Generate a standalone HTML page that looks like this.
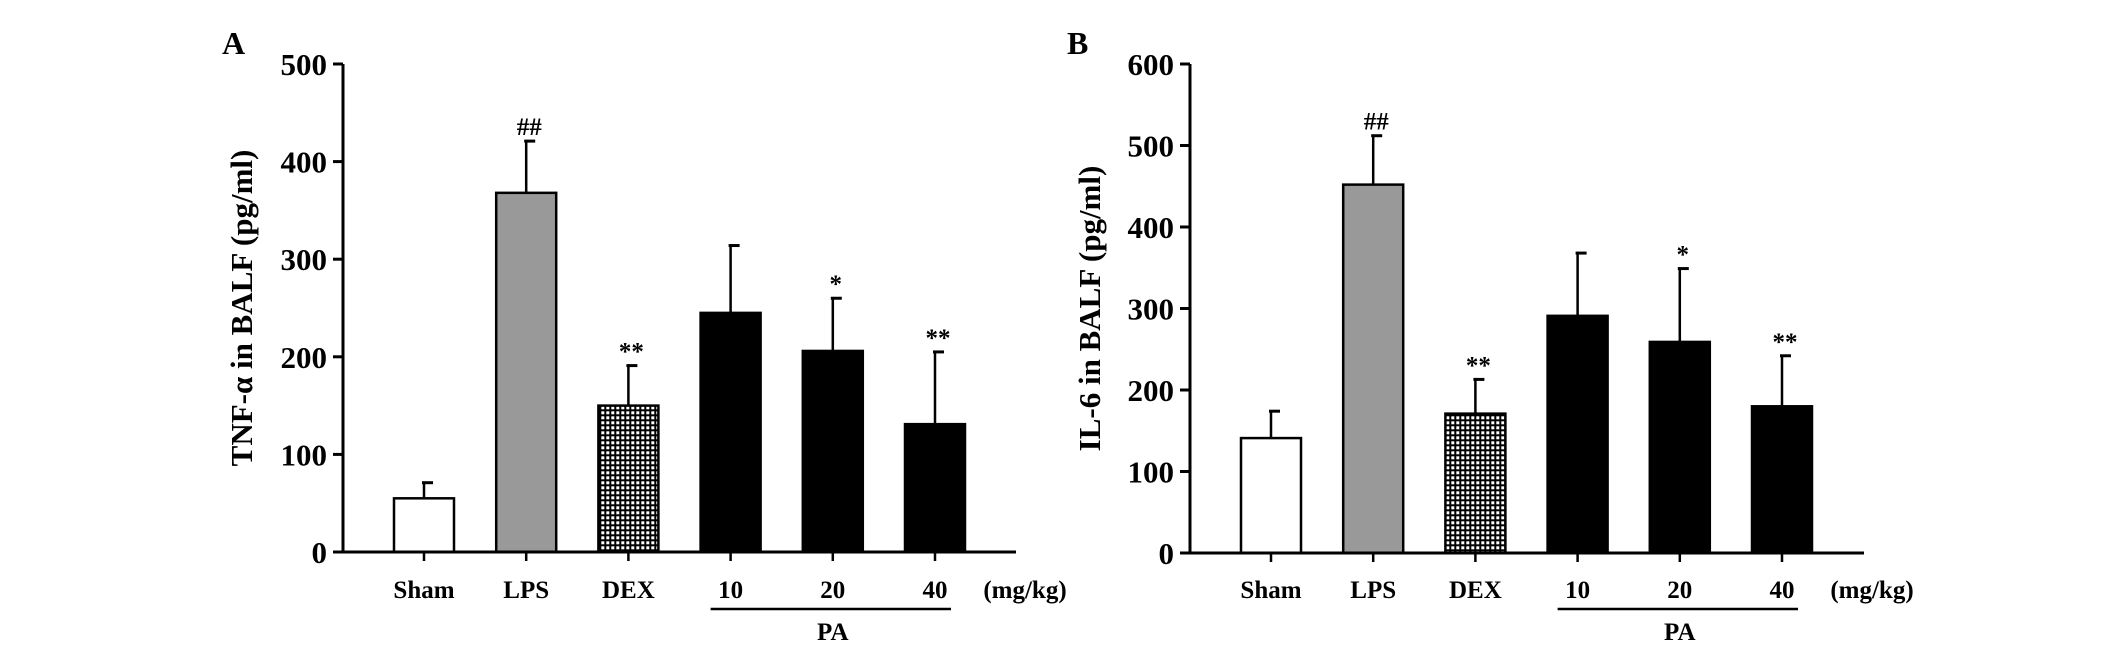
<!DOCTYPE html>
<html><head><meta charset="utf-8"><style>
html,body{margin:0;padding:0;background:#fff}
svg{display:block}
text{font-family:"Liberation Serif",serif;font-weight:bold;fill:#000}
</style></head><body>
<svg id="chart" width="2126" height="656" viewBox="0 0 2126 656" xmlns="http://www.w3.org/2000/svg">
<defs>
<pattern id="grid" width="5" height="5" patternUnits="userSpaceOnUse">
<rect width="5" height="5" fill="#000"/><rect x="1.3" y="1.3" width="3" height="3" fill="#fff"/>
</pattern>
</defs>
</svg>
<script>
const categories = ["Sham","LPS","DEX","10","20","40"];
const tnfValues = [55, 368, 150, 245, 206, 131];
const tnfErrors = [16, 53, 41, 69, 54, 74];
const tnfMarks = ["", "##", "**", "", "*", "**"];
const tnfTicks = [0,100,200,300,400,500];
const il6Values = [141, 452, 171, 291, 259, 180];
const il6Errors = [33, 60, 42, 77, 90, 62];
const il6Marks = ["", "##", "**", "", "*", "**"];
const il6Ticks = [0,100,200,300,400,500,600];

const NS="http://www.w3.org/2000/svg";
const svg=document.getElementById('chart');
function mk(tag,attrs,parent){const e=document.createElementNS(NS,tag);for(const k in attrs)e.setAttribute(k,attrs[k]);(parent||svg).appendChild(e);return e;}

function panel(cfg){
  const g=mk('g',{});
  
  
  const ymax=cfg.ticks[cfg.ticks.length-1];
  const y=v=>cfg.y0-(v/ymax)*(cfg.y0-cfg.yTop);
  const x=i=>cfg.x1+i*cfg.step;
  const fills=["#fff","#999","url(#grid)","#000","#000","#000"];
  cfg.values.forEach((v,i)=>{
    const top=y(v+cfg.errors[i]);
    const eb=mk('line',{x1:x(i),x2:x(i),y1:y(v),y2:top,stroke:'#000','stroke-width':2.5},g);
    
    
    const cap=mk('line',{x1:x(i)-2,x2:x(i)+9,y1:top,y2:top,stroke:'#000','stroke-width':3},g);
    
    
    const r=mk('rect',{x:x(i)-30,y:y(v),width:60,height:cfg.y0-y(v),fill:fills[i],stroke:'#000','stroke-width':2.5},g);
    
    
    if(cfg.marks[i]){
      const t=mk('text',{x:x(i)+3,y:top-6,'text-anchor':'middle','font-size':25},g);
      t.textContent=cfg.marks[i];
      
      
    }
    const tk=mk('line',{x1:x(i),x2:x(i),y1:cfg.y0,y2:cfg.y0+9,stroke:'#000','stroke-width':2.5},g);
    
    
    const lb=mk('text',{x:x(i),y:598,'text-anchor':'middle','font-size':25},g);
    lb.textContent=categories[i];
    
    
  });
  const ya=mk('line',{x1:cfg.ax,x2:cfg.ax,y1:cfg.yTop,y2:cfg.y0+1,stroke:'#000','stroke-width':3},g);
  
  
  const xa=mk('line',{x1:cfg.ax-10,x2:cfg.axEnd,y1:cfg.y0,y2:cfg.y0,stroke:'#000','stroke-width':3},g);
  
  
  cfg.ticks.forEach(v=>{
    const tk=mk('line',{x1:cfg.ax-10,x2:cfg.ax,y1:y(v),y2:y(v),stroke:'#000','stroke-width':3},g);
    
    
    const t=mk('text',{x:cfg.ax-16,y:y(v)+11,'text-anchor':'end','font-size':31},g);
    t.textContent=v;
    
    
  });
  const yt=mk('text',{x:0,y:0,'text-anchor':'middle','font-size':31,transform:`translate(${cfg.titleX},${(cfg.y0+cfg.yTop)/2}) rotate(-90)`},g);
  yt.textContent=cfg.title;
  
  
  const pl=mk('text',{x:cfg.letterX,y:54,'font-size':32},g);
  pl.textContent=cfg.letter;
  
  
  const u=mk('text',{x:x(5)+90,y:598,'text-anchor':'middle','font-size':25},g);
  u.textContent="(mg/kg)";
  
  
  const pline=mk('line',{x1:x(3)-20,x2:x(5)+16,y1:609,y2:609,stroke:'#000','stroke-width':2.5},g);
  
  
  const pa=mk('text',{x:x(4),y:640,'text-anchor':'middle','font-size':25},g);
  pa.textContent="PA";
  
  
}
panel({name:'chart-a-tnf',ax:343,axEnd:1016,yTop:64,y0:552,x1:424,step:102.2,ticks:tnfTicks,values:tnfValues,errors:tnfErrors,marks:tnfMarks,title:"TNF-α in BALF (pg/ml)",titleX:252,letter:"A",letterX:222});
panel({name:'chart-b-il6',ax:1190,axEnd:1864,yTop:64,y0:553,x1:1271,step:102.2,ticks:il6Ticks,values:il6Values,errors:il6Errors,marks:il6Marks,title:"IL-6 in BALF (pg/ml)",titleX:1100,letter:"B",letterX:1067});
</script>
</body></html>
